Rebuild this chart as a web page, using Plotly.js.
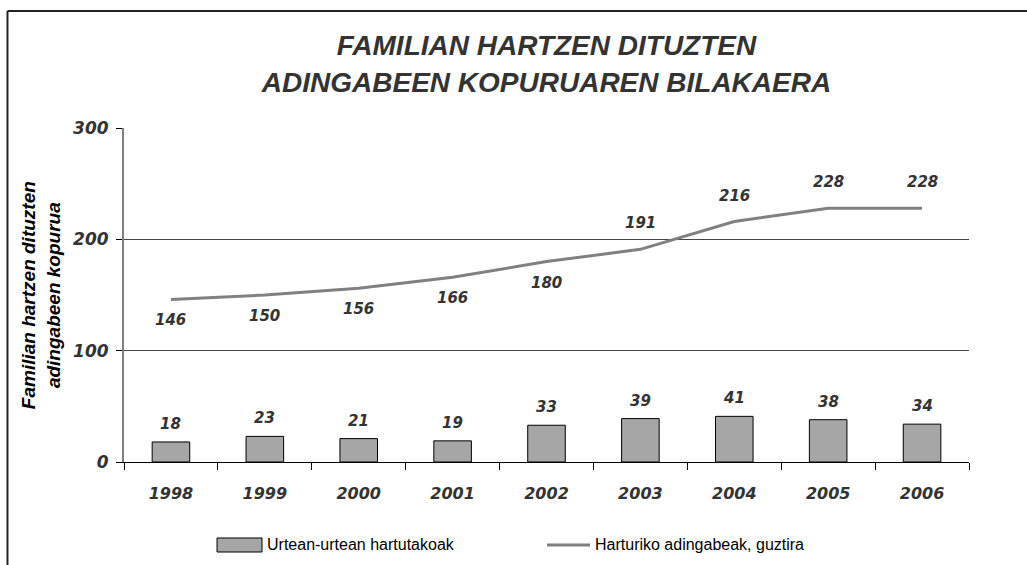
<!DOCTYPE html>
<html>
<head>
<meta charset="utf-8">
<script src="https://cdn.plot.ly/plotly-3.0.1.min.js"></script>
<style>
  html, body { margin: 0; padding: 0; background: #fff; }
  #chart { width: 1027px; height: 565px; }
</style>
</head>
<body>
<div id="chart"></div>
<script>
// ---- data ----
const years = ['1998', '1999', '2000', '2001', '2002', '2003', '2004', '2005', '2006'];
const yearlyAdmitted = [18, 23, 21, 19, 33, 39, 41, 38, 34];
const totalAdmitted = [146, 150, 156, 166, 180, 191, 216, 228, 228];
const barName = 'Urtean-urtean hartutakoak';
const lineName = 'Harturiko adingabeak, guztira';
const chartTitle = 'FAMILIAN HARTZEN DITUZTEN<br>ADINGABEEN KOPURUAREN BILAKAERA';
const yTitle = 'Familian hartzen dituzten<br>adingabeen kopurua';
const yTicks = [0, 100, 200, 300];

const FONT = 'Liberation Sans, Arial, sans-serif';
const NUMFONT = 'DejaVu Sans, Liberation Sans, sans-serif';
const labelFont = { family: NUMFONT, size: 15, color: '#333333', weight: 'bold', style: 'italic' };

const barTrace = {
  type: 'bar',
  name: barName,
  x: years,
  y: yearlyAdmitted,
  marker: { color: '#a6a6a6', line: { color: '#000000', width: 1 } },
  showlegend: false
};

const lineTrace = {
  type: 'scatter',
  mode: 'lines',
  name: lineName,
  x: years,
  y: totalAdmitted,
  line: { color: '#808080', width: 3 },
  showlegend: false
};

const annotations = [];
years.forEach((yr, i) => {
  annotations.push({
    x: i, y: yearlyAdmitted[i], xref: 'x', yref: 'y',
    text: String(yearlyAdmitted[i]), showarrow: false,
    yshift: 18, font: labelFont
  });
  const below = i < 5;
  annotations.push({
    x: i, y: totalAdmitted[i], xref: 'x', yref: 'y',
    text: String(totalAdmitted[i]), showarrow: false,
    yshift: below ? -21 : 26, font: labelFont
  });
});

// y-axis title
annotations.push({
  x: -0.098, y: 0.5, xref: 'paper', yref: 'paper',
  text: yTitle, showarrow: false, textangle: -90,
  xanchor: 'center', yanchor: 'middle',
  font: { family: FONT, size: 19, color: '#000000', weight: 'bold', style: 'italic' }
});

// legend text
const legendFont = { family: FONT, size: 16, color: '#000000' };
annotations.push({
  x: 0.1669, y: -0.2485, xref: 'paper', yref: 'paper',
  text: barName, showarrow: false, xanchor: 'left', yanchor: 'middle', font: legendFont
});
annotations.push({
  x: 0.555, y: -0.2485, xref: 'paper', yref: 'paper',
  text: lineName, showarrow: false, xanchor: 'left', yanchor: 'middle', font: legendFont
});

const shapes = [
  // outer frame: left and top lines
  { type: 'line', xref: 'paper', yref: 'paper', x0: -0.1379, x1: -0.1379, y0: 1.3503, y1: -0.32,
    line: { color: '#222222', width: 2 } },
  { type: 'line', xref: 'paper', yref: 'paper', x0: -0.1379, x1: 1.08, y0: 1.3503, y1: 1.3503,
    line: { color: '#222222', width: 2 } },
  // legend symbols
  { type: 'rect', xref: 'paper', yref: 'paper', x0: 0.1101, x1: 0.1633, y0: -0.2275, y1: -0.2695,
    fillcolor: '#a6a6a6', line: { color: '#000000', width: 1 } },
  { type: 'line', xref: 'paper', yref: 'paper', x0: 0.5006, x1: 0.5515, y0: -0.2485, y1: -0.2485,
    line: { color: '#808080', width: 3 } }
];

const layout = {
  width: 1027,
  height: 565,
  margin: { l: 124, r: 58, t: 128, b: 103 },
  paper_bgcolor: '#ffffff',
  plot_bgcolor: '#ffffff',
  showlegend: false,
  bargap: 0.6,
  title: {
    text: chartTitle,
    x: 0.5, xref: 'paper', xanchor: 'center',
    y: 0.902, yref: 'container', yanchor: 'middle',
    font: { family: FONT, size: 28, color: '#333333', weight: 'bold', style: 'italic' }
  },
  xaxis: {
    type: 'category',
    range: [-0.5, years.length - 0.5],
    autorange: false,
    tickson: 'boundaries',
    ticks: 'outside',
    ticklen: 7,
    tickcolor: '#000000',
    showline: true,
    linecolor: '#000000',
    linewidth: 1,
    showgrid: false,
    tickfont: { family: NUMFONT, size: 16, color: '#333333', weight: 'bold', style: 'italic' },
    ticklabelstandoff: 17,
    fixedrange: true
  },
  yaxis: {
    range: [0, 300],
    autorange: false,
    tickvals: yTicks,
    ticktext: yTicks.map(String),
    ticks: 'outside',
    ticklen: 6,
    tickcolor: '#000000',
    showline: true,
    linecolor: '#808080',
    linewidth: 2,
    showgrid: true,
    gridcolor: '#444444',
    gridwidth: 1,
    zeroline: false,
    tickfont: { family: NUMFONT, size: 17, color: '#333333', weight: 'bold', style: 'italic' },
    ticklabelstandoff: 4,
    fixedrange: true
  },
  annotations: annotations,
  shapes: shapes
};

Plotly.newPlot('chart', [barTrace, lineTrace], layout, { displayModeBar: false, staticPlot: true });
</script>
</body>
</html>
